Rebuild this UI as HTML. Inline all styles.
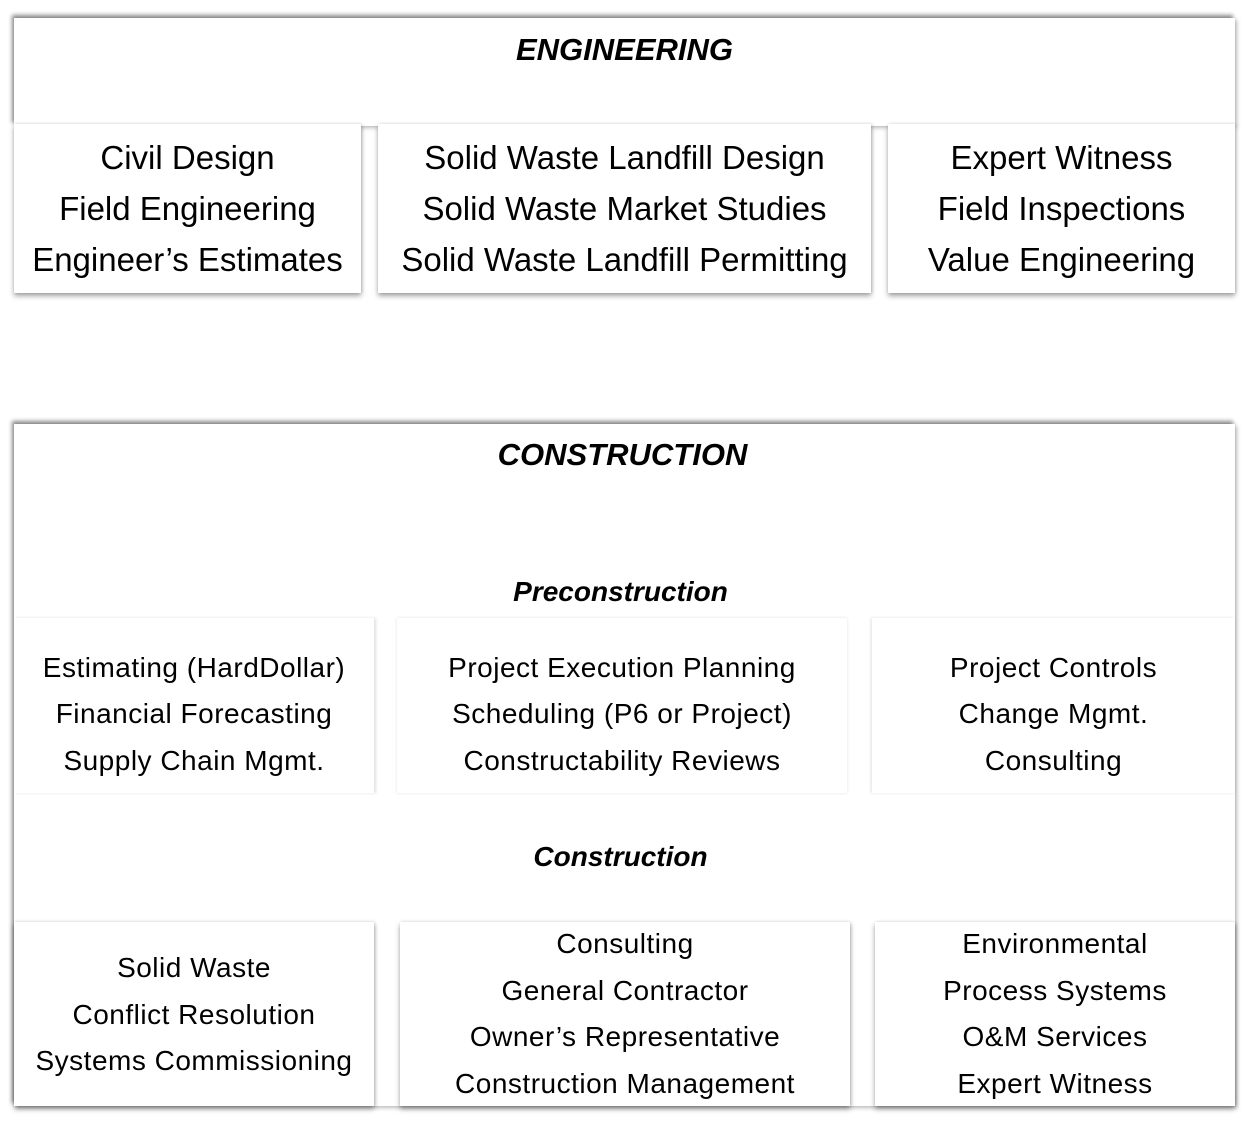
<!DOCTYPE html>
<html><head><style>
body{margin:0;width:1245px;height:1137px;background:#fff;position:relative;overflow:hidden;font-family:"Liberation Sans",sans-serif;color:#000}
.c{position:absolute;background:#fff;box-shadow:-2px -3px 4px rgba(0,0,0,.45),2px 2px 4px rgba(0,0,0,.25)}
.b{position:absolute;background:#fff;display:flex;flex-direction:column;justify-content:center;align-items:center;text-align:center;white-space:nowrap}
.sh{box-shadow:0 3px 5px rgba(0,0,0,.35),1px 0 3px rgba(0,0,0,.15)}
.e{font-size:33px;line-height:51px;padding-top:0px;box-sizing:border-box}
.k{font-size:28px;line-height:46.5px;letter-spacing:0.5px}
.h{position:absolute;left:0;width:1245px;text-align:center;font-weight:bold;font-style:italic}
</style></head><body>
<div class="c" style="left:14px;top:18px;width:1221px;height:108px"></div>
<div class="h" style="top:32px;font-size:31px;left:2px">ENGINEERING</div>
<div class="b sh e" style="left:14px;top:124px;width:347px;height:169px"><div>Civil Design</div><div>Field Engineering</div><div>Engineer’s Estimates</div></div>
<div class="b sh e" style="left:378px;top:124px;width:493px;height:169px"><div>Solid Waste Landfill Design</div><div>Solid Waste Market Studies</div><div>Solid Waste Landfill Permitting</div></div>
<div class="b sh e" style="left:888px;top:124px;width:347px;height:169px"><div>Expert Witness</div><div>Field Inspections</div><div>Value Engineering</div></div>

<div class="c" style="left:14px;top:424px;width:1221px;height:682px"></div>
<div class="h" style="top:437px;font-size:31px">CONSTRUCTION</div>
<div class="h" style="top:576px;font-size:28px;left:-2px">Preconstruction</div>
<div class="b k" style="left:14px;top:618px;width:360px;height:175px;padding-top:18px;box-sizing:border-box;box-shadow:2px 0 3px rgba(0,0,0,.12)"><div>Estimating (HardDollar)</div><div>Financial Forecasting</div><div>Supply Chain Mgmt.</div></div>
<div class="b k" style="left:397px;top:618px;width:450px;height:175px;padding-top:18px;box-sizing:border-box;box-shadow:0 0 3px rgba(0,0,0,.12)"><div>Project Execution Planning</div><div>Scheduling (P6 or Project)</div><div>Constructability Reviews</div></div>
<div class="b k" style="left:872px;top:618px;width:363px;height:175px;padding-top:18px;box-sizing:border-box;box-shadow:-1px 0 3px rgba(0,0,0,.12)"><div>Project Controls</div><div>Change Mgmt.</div><div>Consulting</div></div>
<div class="h" style="top:841px;font-size:28px;left:-2px">Construction</div>
<div class="b sh k" style="left:14px;top:922px;width:360px;height:184px;padding-top:2px;box-sizing:border-box"><div>Solid Waste</div><div>Conflict Resolution</div><div>Systems Commissioning</div></div>
<div class="b sh k" style="left:400px;top:922px;width:450px;height:184px"><div>Consulting</div><div>General Contractor</div><div>Owner’s Representative</div><div>Construction Management</div></div>
<div class="b sh k" style="left:875px;top:922px;width:360px;height:184px"><div>Environmental</div><div>Process Systems</div><div>O&amp;M Services</div><div>Expert Witness</div></div>
</body></html>
